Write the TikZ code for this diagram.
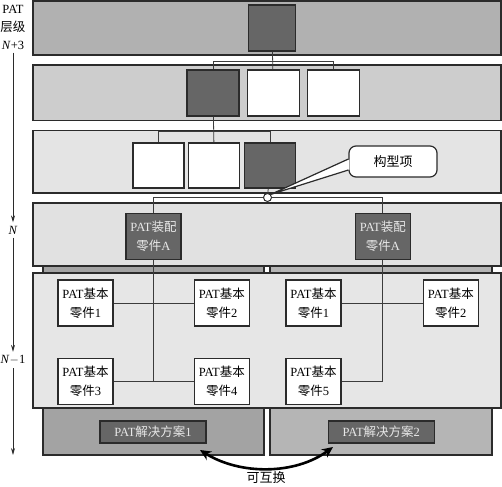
\documentclass[tikz,border=0pt]{standalone}
\usepackage{fontspec}
\setmainfont{Liberation Serif}
\newfontfamily\zhfont{Noto Sans CJK SC}
\newcommand{\zh}[1]{{\zhfont #1}}
\usepackage{tikz}
\usetikzlibrary{positioning}
\usetikzlibrary{arrows.meta}

\definecolor{edge}{HTML}{2B2B2B}
\definecolor{wire}{HTML}{3C3C3C}
\definecolor{bandA}{HTML}{B1B1B1}
\definecolor{bandB}{HTML}{CDCDCD}
\definecolor{bandC}{HTML}{E4E4E4}
\definecolor{bandD}{HTML}{E1E1E1}
\definecolor{bandE}{HTML}{E6E6E6}
\definecolor{solA}{HTML}{A3A3A3}
\definecolor{solB}{HTML}{B5B5B5}
\definecolor{boxdark}{HTML}{666666}
\definecolor{boxtext}{HTML}{E8E8E8}

\begin{document}
\begin{tikzpicture}[x=1pt, y=-1pt,
    every node/.style={font=\fontsize{12.5}{19}\selectfont},
    band/.style={draw=edge, line width=1.3pt},
    item/.style={draw=edge, line width=1.3pt, minimum height=46pt, inner sep=0pt},
    light/.style={item, fill=white},
    dark/.style={item, fill=boxdark},
    part/.style={light, minimum width=55pt, align=center},
    assy/.style={dark, minimum width=55pt, align=center, text=boxtext},
    sol/.style={draw=edge, line width=1.3pt, fill=boxdark, text=boxtext, minimum width=106pt, minimum height=22pt, inner sep=0pt},
    link/.style={draw=wire, line width=0.8pt},
    axis/.style={draw=edge, line width=0.8pt, -{Stealth[length=7pt,width=4pt]}}]

    \useasboundingbox (0,0) rectangle (502,486);

    \draw[band, fill=bandA] (33,1) rectangle (501,55);
    \draw[band, fill=bandB] (33,65) rectangle (501,120.5);
    \draw[band, fill=bandC] (33,130.5) rectangle (501,193);
    \draw[band, fill=bandD] (33,203) rectangle (501,266);
    \draw[band, fill=solA] (43,266) rectangle (264,455);
    \draw[band, fill=solB] (270,266) rectangle (492,455);
    \draw[band, fill=bandE] (33,273) rectangle (501,408);

    \node[dark, minimum width=47pt] (t1) at (272,28) {};

    \node[dark, minimum width=52pt] (s1) at (213,93) {};
    \node[light, minimum width=52pt, right=7pt of s1] (s2) {};
    \node[light, minimum width=52pt, right=7pt of s2] (s3) {};

    \node[light, minimum width=51pt, minimum height=45pt] (c1) at (158.5,165.5) {};
    \node[light, minimum width=51pt, minimum height=45pt, right=3.5pt of c1] (c2) {};
    \node[dark, minimum width=51pt, minimum height=45pt, right=3.5pt of c2] (c3) {};

    \node[draw=edge, fill=white, line width=1.2pt, rounded corners=7pt, minimum width=88pt, minimum height=31pt, font=\fontsize{13}{15}\selectfont] (cfg) at (393,161.5) {\zh{构型项}};
    \coordinate (tip) at (270.5,194.5);
    \fill[white] ([xshift=1pt,yshift=2pt]cfg.west) -- (tip) -- ([xshift=1pt,yshift=-8pt]cfg.west) -- cycle;
    \draw[edge, line width=1.2pt] ([yshift=2.5pt]cfg.west) -- (tip) -- ([yshift=-8.5pt]cfg.west);
    \node[circle, draw=edge, fill=white, line width=1pt, minimum size=8pt, inner sep=0pt] (k) at (267.5,197.5) {};

    \node[assy] (a1) at (153.5,236.5) {PAT\zh{装配}\\\zh{零件}A};
    \node[assy, right=173pt of a1] (a2) {PAT\zh{装配}\\\zh{零件}A};

    \node[part] (p1) at (85.5,303) {PAT\zh{基本}\\\zh{零件}1};
    \node[part, right=80pt of p1] (p2) {PAT\zh{基本}\\\zh{零件}2};
    \node[part, below=31pt of p1] (p3) {PAT\zh{基本}\\\zh{零件}3};
    \node[part, right=80pt of p3] (p4) {PAT\zh{基本}\\\zh{零件}4};

    \node[part] (q1) at (313.5,303) {PAT\zh{基本}\\\zh{零件}1};
    \node[part, right=81pt of q1] (q2) {PAT\zh{基本}\\\zh{零件}2};
    \node[part, below=31pt of q1] (q5) {PAT\zh{基本}\\\zh{零件}5};

    \node[sol] (sol1) at (153,432) {PAT\zh{解决方案}1};
    \node[sol, right=121pt of sol1] (sol2) {PAT\zh{解决方案}2};

    \coordinate (h1) at (213,61);
    \coordinate (h2) at (158.5,131);
    \draw[link] (t1) -- (s2);
    \draw[link] (s1.north) -- (h1) -| (s3.north);
    \draw[link] (s1) -- (c2);
    \draw[link] (c1.north) -- (h2) -| (c3.north);
    \draw[link] (c3) -- (k);
    \draw[link] (a1.north) |- (k.west);
    \draw[link] (k.east) -| (a2.north);
    \draw[link] (a1) -- (a1 |- p3);
    \draw[link] (p1) -- (p2);
    \draw[link] (p3) -- (p4);
    \draw[link] (a2) |- (q5);
    \draw[link] (q1) -- (q2);

    \node[align=center, font=\fontsize{12.5}{18}\selectfont] (lvl) at (13,27) {PAT\\\zh{层级}\\\textit{N}+3};
    \node (n) at (13,230) {\textit{N}};
    \node (n1) at (13,360) {\textit{N}$-$1};
    \coordinate (ax) at (13,455);
    \draw[axis] (lvl) -- (n);
    \draw[axis] (n) -- (n1);
    \draw[axis] (n1) -- (ax);

    \coordinate (e1) at (200,450);
    \coordinate (e2) at (333,447);
    \draw[line width=2.6pt, {Stealth[length=11pt,width=10pt]}-{Stealth[length=11pt,width=10pt]}] (e1) .. controls (240,475) and (295,475) .. (e2);
    \node[font=\fontsize{13}{15}\selectfont] (sw) at (266,478) {\zh{可互换}};

\end{tikzpicture}
\end{document}
